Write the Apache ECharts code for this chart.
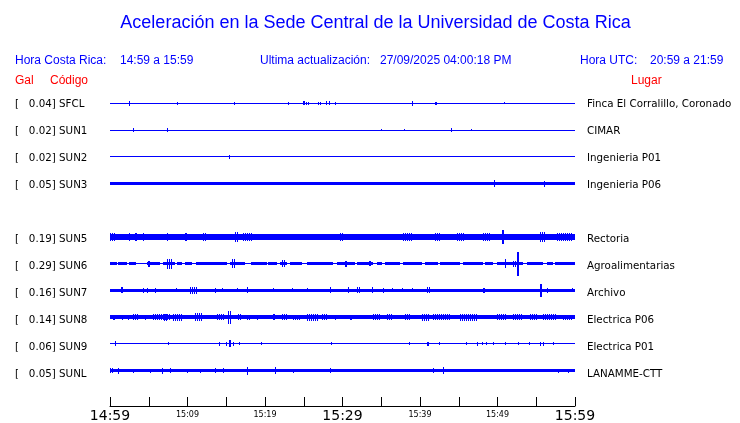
<!DOCTYPE html>
<html><head><meta charset="utf-8">
<script src="https://cdn.jsdelivr.net/npm/echarts@6/dist/echarts.min.js"></script>
<style>html,body{margin:0;padding:0;background:#fff}#c{width:740px;height:423px}</style>
</head><body><div id="c"></div>
<script>
// ---- data ----
var titleText = 'Aceleración en la Sede Central de la Universidad de Costa Rica';
var horaCR = '14:59 a 15:59';
var horaUTC = '20:59 a 21:59';
var actualizacion = '27/09/2025 04:00:18 PM';
var codes  = ['SFCL','SUN1','SUN2','SUN3','SUN5','SUN6','SUN7','SUN8','SUN9','SUNL'];
var gal    = ['0.04','0.02','0.02','0.05','0.19','0.29','0.16','0.14','0.06','0.05'];
var places = ['Finca El Corralillo, Coronado','CIMAR','Ingenieria P01','Ingenieria P06','Rectoria','Agroalimentarias','Archivo','Electrica P06','Electrica P01','LANAMME-CTT'];
var rowSlots = [0,1,2,3,5,6,7,8,9,10];
var tickLabels = ['14:59','15:04','15:09','15:14','15:19','15:24','15:29','15:34','15:39','15:44','15:49','15:54','15:59'];
var bigLabels = ['14:59','15:29','15:59'];
// background amplitude of each trace (half, in screen px units of the row)
var baseAmp = [0.5,0.5,0.5,1.7,3,1.5,1.8,1.7,0.5,1.7];
// bursts: [startMinute, endMinute, halfAmplitude]
var sfclBursts = [[2.45,2.45,2.3],[8.65,8.65,1.2],[16.0,16.0,1.5],[22.97,22.97,1.5],[24.95,25.2,2],[25.29,25.29,1.5],[25.55,25.55,1.5],[26.84,27.3,1.8],[27.87,27.87,2],[28.26,28.26,2],[29.03,29.03,1.5],[38.97,38.97,2.3],[41.94,42.15,1.8],[50.84,50.84,1]];
var sun1Bursts = [[2.97,2.97,2.2],[7.35,7.35,2],[34.97,34.97,1.2],[37.94,37.94,1.2],[44.0,44.0,2],[46.58,46.58,1.2]];
var sun2Bursts = [[15.35,15.35,2]];
var sun3Bursts = [[49.55,49.55,3.5],[56.0,56.0,3]];
var sun5Bursts = [[0,0.65,4],[2.45,2.45,4.5],[3.23,3.48,4],[4.26,4.26,4],[5.16,5.81,3.5],[7.35,7.48,4],[8.13,8.13,3.5],[9.03,9.03,3.5],[9.68,9.94,4.5],[11.23,11.23,3.5],[12.0,12.52,4.5],[13.55,13.55,3.5],[14.84,14.84,3.5],[16.13,16.52,5],[17.16,18.32,4],[20.26,20.26,3.5],[21.94,22.32,3.5],[23.61,23.61,3.5],[25.42,25.42,3.5],[28.0,28.0,3.5],[29.68,30.06,4.5],[30.97,32.26,3.5],[37.81,38.97,4.5],[41.94,42.58,4],[44.77,45.81,4.5],[46.84,46.84,3.5],[48.13,49.03,4],[50.58,50.84,7.5],[53.29,53.81,3.5],[55.48,56.13,5],[57.68,59.74,4]];
var sun6Bursts = [[4.9,5.16,3],[7.35,8.0,5],[15.74,16.13,4.5],[22.19,22.58,3.5],[30.32,30.58,3],[33.42,33.68,2.5],[50.97,50.97,4.5],[52.0,52.4,3],[52.52,52.77,12]];
var sun6Gaps = [[0.9,1.03],[2.19,2.45],[3.35,4.77],[6.45,6.84],[8.39,8.65],[9.29,9.68],[10.58,11.1],[15.1,15.48],[17.42,18.19],[20.26,20.39],[21.55,21.94],[22.84,23.23],[24.77,25.42],[28.77,29.29],[31.61,31.87],[33.94,34.45],[35.1,35.48],[37.42,37.81],[40.26,40.65],[42.32,42.58],[45.16,45.55],[48.13,48.39],[49.42,49.94],[53.29,53.81],[55.87,56.39],[57.16,57.42]];
var sun7Bursts = [[1.42,1.68,3],[4.26,4.26,2.5],[4.77,4.77,2.5],[5.81,5.81,2.5],[8.52,8.52,2],[10.32,11.23,3.4],[13.55,13.55,2.5],[14.45,14.45,2],[16.39,16.39,2],[17.68,17.68,3],[21.03,21.03,2],[23.48,23.48,2],[25.42,25.42,2],[28.39,28.39,3],[30.71,30.71,3],[31.87,32.26,3],[33.81,33.94,3],[35.23,35.23,2.5],[36.39,36.39,2],[37.68,37.68,2],[38.97,38.97,2],[40.9,41.29,3],[48.13,48.39,2.5],[55.48,55.74,6.7],[56.39,56.39,2.5],[59.61,59.61,2]];
var sun8Bursts = [[0.39,0.65,2.5],[1.55,1.55,2.5],[2.32,2.32,2.5],[2.97,3.61,3],[4.52,4.52,2.5],[5.55,7.74,3],[7.0,7.48,3.5],[8.13,9.29,3.5],[10.97,12.0,4.3],[13.81,14.84,3],[15.23,15.74,6.5],[16.52,17.03,3],[17.68,18.06,2.5],[18.97,18.97,2.5],[21.03,21.29,3],[22.19,22.84,3],[23.61,24.52,2.5],[25.42,26.97,3.5],[27.35,28.0,3],[29.03,29.03,2.5],[30.97,31.23,2.5],[33.94,34.84,3],[35.74,36.52,3],[38.06,38.71,3],[40.26,41.29,3.5],[41.68,43.87,3],[45.16,47.48,3.5],[49.94,51.23,3],[52.0,53.29,3],[54.19,55.1,3],[55.87,57.68,3],[58.45,59.61,2.5]];
var sun9Bursts = [[0.65,0.65,2.5],[7.48,7.48,1.5],[14.06,14.06,2],[14.97,14.97,2],[15.35,15.61,3.5],[15.87,15.87,2],[16.65,16.65,1.5],[19.48,19.48,1.5],[28.52,28.52,1.5],[38.58,38.58,1.5],[40.9,41.16,2],[42.45,42.45,1.5],[45.94,45.94,1.5],[47.35,47.35,2],[48.0,48.0,1.5],[48.52,48.52,1.5],[49.42,49.42,1.5],[50.97,50.97,1.5],[52.65,52.65,1.5],[54.06,54.06,1.5],[55.48,55.48,2],[55.87,55.87,2],[57.16,57.16,1.5]];
var sunlBursts = [[0,0.39,2.5],[1.03,1.03,3],[2.97,2.97,2],[5.16,5.16,2],[6.71,6.71,3],[7.74,7.74,2.5],[9.94,9.94,2],[11.61,11.61,2],[13.55,13.55,2.5],[14.58,14.58,2.5],[17.68,17.81,4],[21.29,21.29,3.5],[23.61,23.61,2],[28.39,28.39,2.5],[41.68,41.68,2.5],[42.97,42.97,3.5],[57.81,57.81,2],[59.1,59.1,2]];
var burstsByTrace = [sfclBursts,sun1Bursts,sun2Bursts,sun3Bursts,sun5Bursts,sun6Bursts,sun7Bursts,sun8Bursts,sun9Bursts,sunlBursts];
var gapsByTrace = [[],[],[],[],[],sun6Gaps,[],[],[],[]];

// ---- build ----
var ROW = 27, TMIN = 0, TMAX = 60, GTOP = 90;
var segs = [];
codes.forEach(function(c, i){
  var yc = rowSlots[i]*ROW + ROW/2;
  segs.push([TMIN, TMAX, yc, 0.5, 0]);
  var b = baseAmp[i];
  if (b > 0.5) {
    var gaps = gapsByTrace[i], start = TMIN;
    gaps.forEach(function(g){ if (g[0] > start) segs.push([start, g[0], yc, b, 0]); start = g[1]; });
    if (start < TMAX) segs.push([start, TMAX, yc, b, 0]);
  }
  burstsByTrace[i].forEach(function(s){ segs.push([s[0], s[1], yc, s[2], 1]); });
});

var graphics = [];
function txt(x, y, s, opt){
  graphics.push({type:'text', x:x, y:y, silent:true, style:Object.assign({text:s, fill:'#000', font:'10.3px "DejaVu Sans"', textAlign:'left', textVerticalAlign:'middle'}, opt||{})});
}
var BL = '#0000ff', RD = '#ff0000', HF = '12px "Liberation Sans"';
txt(375.5, 23, titleText, {fill:BL, font:'18px "Liberation Sans"', textAlign:'center'});
txt(15, 61, 'Hora Costa Rica:', {fill:BL, font:HF});
txt(120, 61, horaCR, {fill:BL, font:HF});
txt(260, 61, 'Ultima actualización:', {fill:BL, font:HF});
txt(380, 61, actualizacion, {fill:BL, font:HF});
txt(580, 61, 'Hora UTC:', {fill:BL, font:HF});
txt(650, 61, horaUTC, {fill:BL, font:HF});
txt(15, 81, 'Gal', {fill:RD, font:HF});
txt(50, 81, 'Código', {fill:RD, font:HF});
txt(631, 81, 'Lugar', {fill:RD, font:HF});
codes.forEach(function(c, i){
  var y = GTOP + rowSlots[i]*ROW + ROW/2 + 0.5;
  txt(15, y, '[   ' + gal[i] + '] ' + c);
  txt(587, y, places[i]);
});

var chart = echarts.init(document.getElementById('c'), null, {renderer:'canvas'});
chart.setOption({
  animation:false,
  backgroundColor:'#fff',
  grid:{left:110, width:465, top:GTOP, height:11*ROW},
  xAxis:{type:'value', min:TMIN, max:TMAX, interval:5, offset:22, position:'bottom',
    splitLine:{show:false},
    axisLine:{onZero:false, lineStyle:{color:'#000', width:1}},
    axisTick:{inside:true, length:9, lineStyle:{color:'#000'}},
    axisLabel:{margin:3, color:'#000', fontFamily:'DejaVu Sans',
      formatter:function(v){
        var k = Math.round(v/5); if (k % 2) return '';
        var s = tickLabels[k];
        return bigLabels.indexOf(s) >= 0 ? '{b|' + s + '}' : '{s|' + s + '}';
      },
      rich:{b:{fontSize:14, fontFamily:'DejaVu Sans', color:'#000'}, s:{fontSize:8, fontFamily:'DejaVu Sans', color:'#000', padding:[2,0,0,0]}}
    }},
  yAxis:{type:'value', min:0, max:11*ROW, inverse:true, show:false},
  series:[{type:'custom', data:segs, encode:{x:[0,1], y:2},
    renderItem:function(params, api){
      var m0=api.value(0), m1=api.value(1), yc=api.value(2), h=api.value(3), comb=api.value(4);
      var p0=api.coord([m0, yc-h]), p1=api.coord([m1, yc+h]);
      var x=Math.round(p0[0]), w=Math.max(1, Math.round(p1[0])-x);
      var yt=Math.round(Math.min(p0[1],p1[1])), yb=Math.round(Math.max(p0[1],p1[1]));
      if (yb-yt < 1) yb = yt+1;
      if (comb && w > 2) {
        var ch = [];
        for (var xx = x; xx < x + w; xx += 2) ch.push({type:'rect', shape:{x:xx, y:yt, width:1, height:yb-yt}, style:{fill:BL}});
        return {type:'group', children:ch};
      }
      return {type:'rect', shape:{x:x, y:yt, width:w, height:yb-yt}, style:{fill:BL}};
    }}],
  graphic:graphics
});
</script></body></html>
